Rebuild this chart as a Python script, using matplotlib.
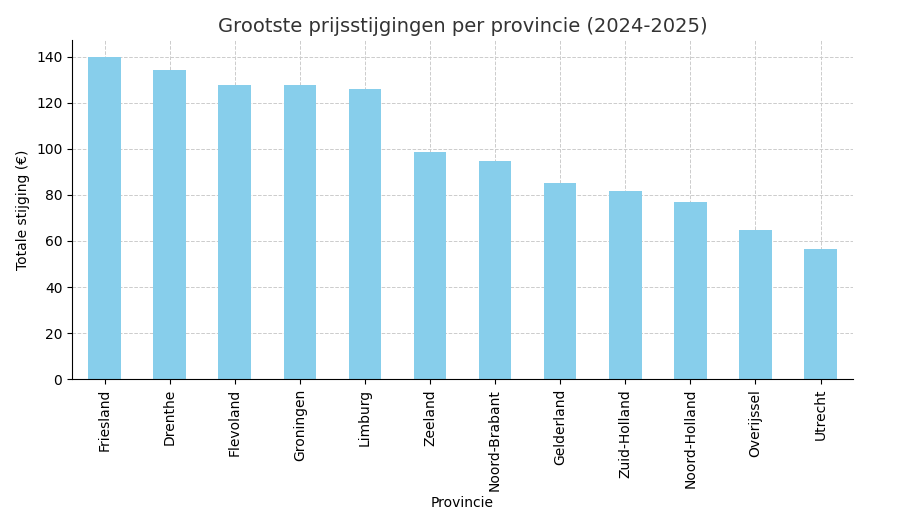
import matplotlib
matplotlib.use("Agg")
import matplotlib.pyplot as plt
import numpy as np

# data
provincies = ["Friesland", "Drenthe", "Flevoland", "Groningen", "Limburg", "Zeeland",
              "Noord-Brabant", "Gelderland", "Zuid-Holland", "Noord-Holland",
              "Overijssel", "Utrecht"]
stijging = [139.7, 134.1, 127.6, 127.5, 126.1, 98.5, 94.8, 85.0, 81.7, 77.1, 64.8, 56.7]

fig = plt.figure(figsize=(9.05, 5.18), dpi=100)
ax = fig.add_axes([0.0796, 0.268, 0.863, 0.655])

x = np.arange(len(provincies))
ax.bar(x, stijging, width=0.5, color="skyblue", zorder=2)
ax.set_xlim(-0.5, len(provincies) - 0.5)
ax.set_ylim(0, 147.3)
ax.set_xticks(x)
ax.set_xticklabels(provincies, rotation=90, fontsize=10)
ax.tick_params(axis="y", labelsize=10)

ax.set_title("Grootste prijsstijgingen per provincie (2024-2025)", fontsize=14, color="#333333")
ax.set_xlabel("Provincie", fontsize=10)
ax.set_ylabel("Totale stijging (€)", fontsize=10)

ax.grid(True, linestyle="--", color="#cccccc", linewidth=0.7, zorder=0)
ax.spines["top"].set_visible(False)
ax.spines["right"].set_visible(False)

fig.savefig("out.png", dpi=100)
